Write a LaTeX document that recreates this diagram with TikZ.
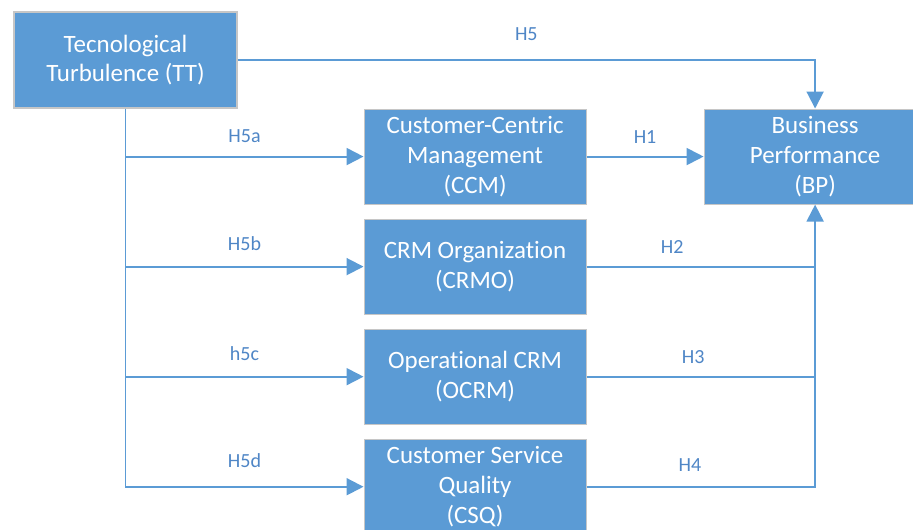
\documentclass[tikz,border=0pt]{standalone}
\usepackage{fontspec}
\setmainfont{Carlito}[Ligatures=NoCommon]
\usetikzlibrary{arrows.meta, positioning}
\definecolor{boxblue}{HTML}{5B9BD5}
\definecolor{lineblue}{HTML}{5B9BD5}
\definecolor{hypblue}{HTML}{4F86C6}
\tikzstyle{construct} = [rectangle, minimum width=4.44cm, minimum height=1.9cm, inner sep=0pt, align=center, text=white, draw=gray!45, line width=0.6pt, fill=boxblue, font=\fontsize{14.2}{17}\selectfont]
\tikzstyle{link} = [line width=1.1pt, draw=lineblue]
\tikzstyle{arrow} = [link, -{Triangle[length=0.34cm, width=0.34cm]}]
\tikzstyle{hyp} = [text=hypblue, inner sep=0pt, font=\fontsize{11.4}{13}\selectfont]

\begin{document}
\begin{tikzpicture}[node distance=0.28cm and 2.34cm]
\useasboundingbox (0,0) rectangle (18.26,-10.58);

% Nodes
\node (tt) [construct, minimum width=4.46cm, minimum height=1.92cm] at (2.51,-1.2) {Tecnological\\Turbulence (TT)};
\node (ccm) [construct, below right=0cm and 2.52cm of tt] {Customer-Centric\\Management\\(CCM)};
\node (crmo) [construct, below=of ccm] {CRM Organization\\(CRMO)};
\node (ocrm) [construct, below=of crmo] {Operational CRM\\(OCRM)};
\node (csq) [construct, below=of ocrm] {Customer Service\\Quality\\(CSQ)};
\node (bp) [construct, right=of ccm] {Business\\Performance\\(BP)};

% Arrows from TT
\draw [arrow] (tt.east) -- node[hyp, above=0.36cm] {H5} (tt.east -| bp) -- (bp.north);
\draw [arrow] (tt.south) -- (tt.south |- csq.west) -- node[hyp, above=0.36cm] {H5d} (csq.west);
\draw [arrow] (tt.south |- ccm.west) -- node[hyp, above=0.25cm] {H5a} (ccm.west);
\draw [arrow] (tt.south |- crmo.west) -- node[hyp, above=0.3cm] {H5b} (crmo.west);
\draw [arrow] (tt.south |- ocrm.west) -- node[hyp, above=0.3cm] {h5c} (ocrm.west);

% Arrows into BP
\draw [arrow] (ccm.east) -- node[hyp, above=0.25cm] {H1} (bp.west);
\draw [link] (crmo.east) -- node[hyp, pos=0.375, above=0.24cm] {H2} (crmo.east -| bp);
\draw [link] (ocrm.east) -- node[hyp, pos=0.467, above=0.24cm] {H3} (ocrm.east -| bp);
\draw [arrow] (csq.east) -- node[hyp, pos=0.452, above=0.29cm] {H4} (csq.east -| bp) -- (bp.south);

\end{tikzpicture}
\end{document}
